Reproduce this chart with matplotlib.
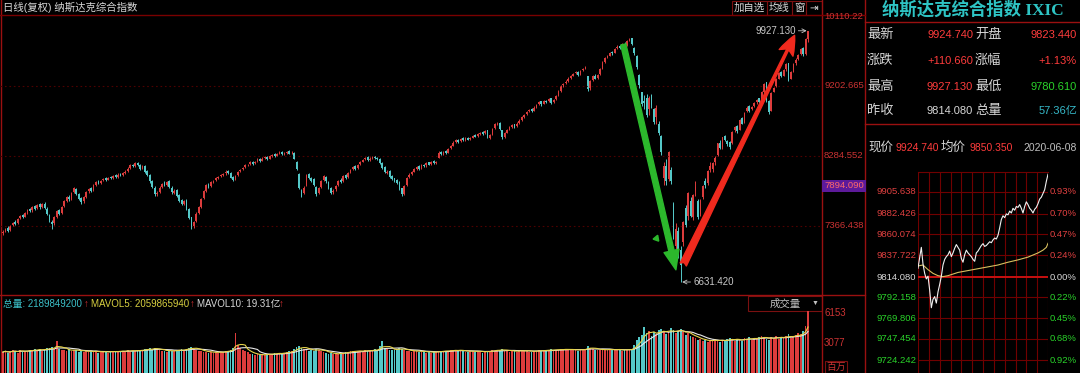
import numpy as np
import pandas as pd
import matplotlib
matplotlib.use("Agg")
import matplotlib.pyplot as plt
from matplotlib.patches import Rectangle, FancyArrowPatch
from matplotlib.transforms import blended_transform_factory as blend

plt.rcParams['font.family'] = ['Liberation Sans', 'Noto Sans CJK SC', 'DejaVu Sans']

# 日线 K线数据 (纳斯达克综合指数)
opens = [
    7270, 7300, 7345, 7320, 7385, 7420, 7410, 7470, 7510, 7490,
    7545, 7590, 7570, 7630, 7600, 7650, 7615, 7660, 7590, 7510,
    7420, 7400, 7490, 7575, 7540, 7630, 7700, 7750, 7720, 7810,
    7850, 7780, 7730, 7690, 7750, 7820, 7860, 7840, 7910, 7955,
    7935, 7965, 7995, 7975, 8010, 7995, 8030, 8010, 8050, 8035,
    8065, 8085, 8125, 8170, 8155, 8195, 8170, 8125, 8150, 8085,
    8030, 7960, 7870, 7780, 7810, 7880, 7930, 7905, 7950, 7870,
    7800, 7840, 7770, 7710, 7650, 7700, 7590, 7480, 7370, 7430,
    7540, 7620, 7730, 7830, 7910, 7890, 7950, 7975, 7995, 8020,
    8035, 8055, 8090, 8065, 8010, 7980, 8030, 8085, 8110, 8140,
    8165, 8180, 8210, 8190, 8215, 8250, 8225, 8255, 8275, 8250,
    8285, 8305, 8290, 8315, 8335, 8310, 8325, 8345, 8320, 8320,
    8200, 8050, 7830, 7800, 7900, 8050, 7990, 7980, 7880, 7800,
    7880, 7970, 8010, 7940, 7860, 7810, 7845, 7900, 7975, 7950,
    8030, 8010, 8070, 8110, 8150, 8130, 8180, 8210, 8240, 8270,
    8230, 8255, 8280, 8260, 8245, 8195, 8140, 8060, 8090, 8020,
    7990, 7970, 7940, 7860, 7790, 7900, 8010, 8050, 8080, 8115,
    8150, 8130, 8170, 8160, 8200, 8180, 8215, 8195, 8260, 8340,
    8315, 8350, 8330, 8390, 8420, 8465, 8495, 8480, 8515, 8495,
    8525, 8505, 8525, 8560, 8545, 8575, 8600, 8580, 8620, 8520,
    8570, 8650, 8705, 8720, 8620, 8540, 8590, 8630, 8665, 8700,
    8680, 8720, 8760, 8800, 8830, 8870, 8900, 8880, 8930, 8960,
    9000, 8970, 9010, 9000, 9040, 8990, 9030, 9080, 9140, 9210,
    9240, 9270, 9310, 9340, 9370, 9390, 9360, 9410, 9430, 9330,
    9180, 9280, 9340, 9310, 9360, 9430, 9520, 9580, 9600, 9650,
    9640, 9700, 9730, 9710, 9760, 9740, 9800, 9830, 9700, 9600,
    9350, 9120, 9000, 9050, 8900, 9080, 8900, 8800, 8700, 8550,
    8000, 8150, 7980, 8100, 7650, 7100, 7300, 7050, 7150, 7600,
    7500, 7700, 7480, 7820, 7700, 7530, 7750, 7950, 7930, 8100,
    8110, 8200, 8300, 8460, 8400, 8550, 8480, 8470, 8450, 8620,
    8680, 8630, 8780, 8730, 8870, 8940, 8900, 8940, 8990, 9040,
    9010, 9130, 9250, 9000, 8880, 9130, 9200, 9300, 9380, 9340,
    9420, 9500, 9300, 9390, 9500, 9560, 9620, 9700, 9620, 9823.44,
]
highs = [
    7310, 7345, 7360, 7385, 7425, 7440, 7475, 7515, 7525, 7555,
    7590, 7600, 7635, 7645, 7655, 7665, 7670, 7680, 7610, 7525,
    7440, 7495, 7575, 7590, 7635, 7705, 7760, 7770, 7815, 7880,
    7865, 7795, 7745, 7755, 7825, 7865, 7875, 7915, 7960, 7970,
    7975, 8000, 8010, 8015, 8025, 8035, 8045, 8055, 8065, 8075,
    8095, 8135, 8175, 8185, 8205, 8210, 8180, 8165, 8160, 8100,
    8045, 7975, 7885, 7830, 7885, 7935, 7950, 7960, 7965, 7885,
    7850, 7855, 7780, 7725, 7705, 7715, 7600, 7490, 7435, 7545,
    7625, 7735, 7835, 7915, 7925, 7955, 7975, 8005, 8025, 8045,
    8065, 8095, 8100, 8075, 8020, 8035, 8085, 8115, 8145, 8175,
    8185, 8215, 8220, 8225, 8255, 8260, 8265, 8285, 8290, 8295,
    8315, 8320, 8325, 8345, 8345, 8335, 8355, 8360, 8345, 8335,
    8215, 8065, 7845, 7885, 8045, 8065, 8010, 7995, 7890, 7875,
    7975, 8035, 8025, 7955, 7875, 7845, 7905, 7975, 7990, 8035,
    8045, 8075, 8115, 8155, 8160, 8185, 8215, 8245, 8275, 8285,
    8265, 8285, 8290, 8275, 8255, 8205, 8150, 8100, 8100, 8035,
    8000, 7985, 7950, 7870, 7900, 8015, 8055, 8085, 8125, 8155,
    8160, 8175, 8180, 8205, 8210, 8225, 8230, 8225, 8345, 8350,
    8355, 8360, 8395, 8425, 8475, 8505, 8510, 8525, 8530, 8535,
    8540, 8530, 8565, 8575, 8585, 8605, 8610, 8625, 8630, 8575,
    8655, 8715, 8730, 8735, 8630, 8595, 8635, 8675, 8705, 8710,
    8725, 8765, 8805, 8835, 8875, 8905, 8915, 8935, 8965, 9005,
    9010, 9015, 9025, 9045, 9050, 9035, 9085, 9145, 9215, 9245,
    9275, 9315, 9345, 9375, 9395, 9400, 9415, 9435, 9465, 9340,
    9285, 9345, 9360, 9365, 9435, 9525, 9585, 9605, 9655, 9665,
    9705, 9735, 9745, 9765, 9775, 9805, 9838, 9835, 9710, 9610,
    9360, 9130, 9080, 9100, 9070, 9100, 8910, 8950, 8740, 8560,
    8200, 8250, 8350, 8140, 7680, 7400, 7350, 7100, 7430, 7640,
    7810, 7740, 7790, 7950, 7720, 7720, 7900, 7990, 8100, 8200,
    8200, 8280, 8460, 8490, 8540, 8560, 8500, 8480, 8610, 8680,
    8690, 8770, 8790, 8860, 8935, 8950, 8945, 8995, 9035, 9050,
    9135, 9245, 9260, 9020, 9125, 9195, 9305, 9385, 9395, 9425,
    9505, 9510, 9400, 9505, 9565, 9620, 9695, 9710, 9830, 9927.13,
]
lows = [
    7245, 7285, 7290, 7300, 7370, 7380, 7395, 7455, 7465, 7480,
    7530, 7545, 7555, 7580, 7590, 7595, 7600, 7590, 7505, 7425,
    7330, 7380, 7475, 7515, 7525, 7615, 7685, 7700, 7705, 7795,
    7775, 7705, 7660, 7670, 7735, 7805, 7815, 7825, 7895, 7915,
    7920, 7955, 7960, 7965, 7980, 7985, 7995, 8000, 8020, 8025,
    8050, 8075, 8115, 8135, 8145, 8155, 8105, 8110, 8065, 8020,
    7935, 7860, 7760, 7765, 7795, 7865, 7885, 7890, 7865, 7790,
    7785, 7745, 7685, 7640, 7640, 7570, 7455, 7330, 7345, 7420,
    7530, 7605, 7715, 7815, 7865, 7875, 7935, 7955, 7985, 8005,
    8020, 8040, 8050, 7990, 7955, 7965, 8020, 8075, 8100, 8130,
    8150, 8170, 8170, 8180, 8205, 8210, 8215, 8245, 8235, 8240,
    8275, 8275, 8280, 8305, 8295, 8300, 8315, 8305, 8310, 8240,
    8095, 7850, 7740, 7780, 7890, 7985, 7945, 7890, 7765, 7790,
    7865, 7955, 7935, 7855, 7785, 7790, 7830, 7885, 7925, 7940,
    7985, 8000, 8060, 8100, 8105, 8120, 8170, 8200, 8230, 8220,
    8215, 8245, 8245, 8230, 8180, 8120, 8055, 8050, 7995, 7965,
    7945, 7915, 7835, 7760, 7775, 7885, 8000, 8040, 8070, 8105,
    8105, 8115, 8140, 8145, 8160, 8170, 8180, 8185, 8255, 8295,
    8300, 8310, 8320, 8380, 8410, 8455, 8460, 8470, 8480, 8485,
    8490, 8495, 8515, 8530, 8535, 8565, 8560, 8570, 8515, 8505,
    8560, 8635, 8690, 8630, 8505, 8525, 8580, 8620, 8655, 8655,
    8670, 8705, 8745, 8785, 8820, 8860, 8860, 8870, 8920, 8950,
    8945, 8960, 8980, 8990, 8970, 8975, 9020, 9070, 9130, 9195,
    9230, 9260, 9300, 9330, 9355, 9340, 9350, 9400, 9420, 9140,
    9150, 9265, 9290, 9290, 9350, 9420, 9510, 9565, 9590, 9615,
    9630, 9685, 9690, 9700, 9720, 9730, 9790, 9740, 9610, 9430,
    9180, 8940, 8900, 8800, 8820, 8920, 8700, 8700, 8560, 8300,
    7900, 7900, 7960, 7920, 7190, 6900, 6950, 6631.42, 7100, 7350,
    7450, 7480, 7440, 7760, 7460, 7500, 7720, 7870, 7900, 8080,
    8080, 8170, 8290, 8380, 8380, 8480, 8420, 8380, 8440, 8600,
    8590, 8620, 8700, 8720, 8860, 8860, 8890, 8930, 8970, 8975,
    8995, 9115, 8990, 8840, 8870, 9120, 9190, 9290, 9320, 9330,
    9400, 9270, 9290, 9380, 9480, 9540, 9610, 9600, 9610, 9780.61,
]
closes = [
    7290, 7330, 7305, 7370, 7410, 7395, 7460, 7500, 7480, 7540,
    7575, 7560, 7620, 7595, 7640, 7610, 7655, 7600, 7520, 7440,
    7390, 7480, 7560, 7530, 7620, 7690, 7740, 7715, 7800, 7860,
    7790, 7720, 7680, 7740, 7810, 7850, 7830, 7900, 7945, 7930,
    7960, 7985, 7970, 8000, 7990, 8020, 8005, 8040, 8030, 8060,
    8080, 8120, 8160, 8150, 8190, 8165, 8120, 8145, 8080, 8040,
    7950, 7880, 7790, 7800, 7870, 7920, 7900, 7945, 7880, 7810,
    7830, 7760, 7700, 7660, 7690, 7580, 7470, 7360, 7420, 7530,
    7610, 7720, 7820, 7900, 7880, 7940, 7960, 7990, 8010, 8030,
    8050, 8080, 8060, 8000, 7970, 8020, 8070, 8100, 8130, 8160,
    8170, 8200, 8180, 8210, 8240, 8220, 8250, 8270, 8245, 8280,
    8300, 8285, 8310, 8330, 8305, 8320, 8340, 8315, 8330, 8250,
    8110, 7860, 7760, 7870, 8030, 8000, 7960, 7900, 7780, 7860,
    7960, 8020, 7950, 7870, 7800, 7830, 7890, 7960, 7940, 8020,
    8000, 8060, 8100, 8140, 8120, 8170, 8200, 8230, 8260, 8235,
    8250, 8270, 8255, 8240, 8190, 8130, 8070, 8080, 8010, 7980,
    7960, 7930, 7850, 7780, 7890, 8000, 8040, 8070, 8110, 8140,
    8120, 8160, 8150, 8190, 8170, 8210, 8190, 8210, 8330, 8310,
    8340, 8320, 8380, 8410, 8460, 8490, 8470, 8510, 8490, 8520,
    8500, 8520, 8550, 8540, 8570, 8590, 8570, 8610, 8530, 8560,
    8640, 8700, 8710, 8640, 8530, 8580, 8620, 8660, 8690, 8670,
    8710, 8750, 8790, 8820, 8860, 8890, 8870, 8920, 8950, 8990,
    8960, 9000, 8990, 9030, 8980, 9020, 9070, 9130, 9200, 9230,
    9260, 9300, 9330, 9360, 9380, 9350, 9400, 9420, 9450, 9160,
    9270, 9330, 9300, 9350, 9420, 9510, 9570, 9590, 9640, 9630,
    9690, 9720, 9700, 9750, 9730, 9790, 9820, 9750, 9630, 9450,
    9220, 8960, 8980, 8820, 9050, 8950, 8730, 8920, 8580, 8340,
    8150, 7950, 8340, 7950, 7200, 7330, 6990, 6860, 7420, 7380,
    7800, 7500, 7770, 7880, 7490, 7700, 7890, 7910, 8090, 8150,
    8190, 8260, 8450, 8390, 8530, 8500, 8440, 8400, 8600, 8660,
    8610, 8760, 8710, 8850, 8920, 8880, 8930, 8980, 9020, 8990,
    9120, 9230, 9000, 8860, 9110, 9180, 9290, 9370, 9330, 9410,
    9490, 9280, 9380, 9490, 9550, 9608, 9683, 9616, 9814.08, 9924.74,
]
# 成交量 (百万)
volumes = [
    2150, 2300, 2050, 2200, 2400, 2250, 2100, 2350, 2200, 2300,
    2250, 2400, 2300, 2450, 2350, 2500, 2300, 2400, 2600, 2550,
    2700, 2500, 3300, 2450, 2400, 2350, 2300, 2450, 2250, 2350,
    2400, 2200, 2300, 2150, 2250, 2200, 2300, 2150, 2250, 2100,
    2200, 2150, 2250, 2100, 2200, 2300, 2150, 2250, 2200, 2300,
    2250, 2350, 2200, 2300, 2250, 2400, 2350, 2300, 2450, 2500,
    2550, 2400, 2600, 2450, 2350, 2300, 2250, 2200, 2350, 2300,
    2250, 2350, 2400, 2450, 2300, 2500, 2600, 2700, 2500, 2400,
    2300, 2250, 2200, 2150, 2100, 2200, 2050, 2150, 2100, 2200,
    2150, 2250, 2300, 2400, 2600, 4100, 2900, 2600, 2400, 2300,
    2150, 2000, 1900, 1850, 1950, 1800, 1900, 1850, 1950, 2000,
    1900, 2050, 2000, 2100, 1950, 2050, 2150, 2250, 2300, 2450,
    2700, 2800, 2600, 2500, 2400, 2300, 2350, 2250, 2500, 2400,
    2300, 2200, 2100, 1950, 2050, 1900, 2000, 1950, 2100, 2050,
    2150, 2200, 2250, 2300, 2200, 2250, 2300, 2200, 2350, 2250,
    2300, 2400, 2450, 2350, 2800, 3300, 2600, 2450, 2400, 2350,
    2400, 2500, 2550, 2450, 2350, 2300, 2250, 2200, 2300, 2250,
    2200, 2150, 2250, 2100, 2200, 2050, 2150, 2200, 2300, 2250,
    2200, 2300, 2250, 2350, 2400, 2300, 2250, 2350, 2300, 2200,
    2150, 2250, 2300, 2200, 2250, 2150, 2100, 2200, 2300, 2250,
    2350, 2300, 2400, 2350, 2450, 2300, 2250, 2200, 2300, 2250,
    2200, 2300, 2350, 2250, 2300, 2200, 2150, 2250, 2300, 2350,
    2300, 2250, 2350, 2400, 2450, 2300, 2350, 2400, 2500, 2450,
    2400, 2350, 2450, 2400, 2350, 2300, 2400, 2450, 2500, 2750,
    2600, 2450, 2400, 2350, 2400, 2450, 2400, 2350, 2450, 2400,
    2350, 2450, 2400, 2300, 2350, 2400, 2450, 2500, 2900, 3400,
    3700, 3900, 4700, 4100, 4300, 3800, 4200, 4000, 4400, 4500,
    4300, 4000, 4200, 4600, 4400, 4100, 4300, 4500, 4200, 3900,
    4100, 3800, 3700, 3600, 3400, 3500, 3300, 3400, 3200, 3300,
    3400, 3500, 3300, 3200, 3400, 3300, 3500, 3600, 3400, 3300,
    3500, 3400, 3300, 3600, 3500, 3700, 3400, 3500, 3600, 3700,
    3800, 3600, 3500, 3400, 3700, 3600, 3800, 3500, 3700, 3600,
    3800, 4000, 3600, 3700, 3900, 4100, 4000, 4300, 4800, 6400,
]
price_ticks = [10110.22, 9202.665, 8284.552, 7366.438]
cursor_price = 7894.09
vol_ticks = [6153, 3077]
vol_header = [(3, '总量: 2189849200', '#3cc0c8'), (84, '↑', '#d03030'),
              (91, 'MAVOL5: 2059865940', '#d8d040'), (190, '↑', '#d03030'),
              (197, 'MAVOL10: 19.31亿', '#d8d8d8'), (279, '↑', '#d03030')]

# 分时数据 (每5分钟)
intraday_price = [
    9823.44, 9835, 9846, 9828, 9818, 9812, 9815, 9800, 9781, 9790,
    9793, 9786, 9798, 9806, 9815, 9827, 9833, 9836, 9838, 9842,
    9836, 9840, 9845, 9849, 9846, 9843, 9834, 9830, 9838, 9843,
    9840, 9838, 9836, 9833, 9831, 9840, 9842, 9845, 9848, 9850,
    9847, 9848, 9850, 9852, 9851, 9854, 9856, 9855, 9859, 9867,
    9876, 9880, 9878, 9882, 9881, 9885, 9883, 9888, 9886, 9890,
    9889, 9892, 9888, 9883, 9890, 9895, 9892, 9888, 9886, 9883,
    9887, 9889, 9893, 9898, 9900, 9904, 9908, 9917, 9924.74,
]
avg_minutes = [0, 15, 30, 45, 60, 75, 90, 120, 150, 180, 210, 240, 270, 300, 330, 360, 375, 385, 390]
avg_price = [9826, 9827, 9822, 9818, 9815.5, 9814.5, 9815.5, 9819, 9821, 9823,
             9825, 9827, 9830, 9832.5, 9835.5, 9840, 9843, 9846, 9850.35]
intraday_levels = [9905.638, 9882.426, 9860.074, 9837.722, 9814.080,
                   9792.158, 9769.806, 9747.454, 9724.242]
total_amount = '57.36亿'
date_text = '2020-06-08'

UP = '#dc3c3c'
DOWN = '#54c8c8'
GRID = '#4e0000'
BORDER = '#9a1010'
AXRED = '#cc3333'
QRED = '#ff3c3c'
QGREEN = '#2ad22a'
WHITE = '#d8d8d8'
CYAN = '#36b8c8'

W, H = 1080, 373
fig = plt.figure(figsize=(W / 100, H / 100), dpi=100, facecolor='black')


def px_axes(x0, y0, x1, y1, z=1):
    a = fig.add_axes([x0 / W, 1 - y1 / H, (x1 - x0) / W, (y1 - y0) / H], zorder=z)
    a.set_axis_off()
    return a


bg = px_axes(0, 0, W, H, z=0)
bg.set_xlim(0, W)
bg.set_ylim(H, 0)

# frame lines
for x in (1, 822, 865):
    bg.plot([x, x], [0, H], color=BORDER, lw=1)
bg.plot([0, 865], [15, 15], color='#7a0000', lw=1)
bg.plot([0, 865], [295, 295], color=BORDER, lw=1)
bg.plot([865, W], [22, 22], color=BORDER, lw=1)
bg.plot([865, W], [124, 124], color=BORDER, lw=1)

# top-left title and buttons
bg.text(3, 7.5, '日线(复权) 纳斯达克综合指数', color=WHITE, fontsize=7.5, va='center')
for (x0, x1), lab in zip([(732, 767), (767, 792), (792, 806), (806, 822)], ['加自选', '均线', '窗', '⇥']):
    bg.add_patch(Rectangle((x0, 1), x1 - x0, 14, fill=False, edgecolor='#7a1010', lw=0.8))
    bg.text((x0 + x1) / 2, 8, lab, color=WHITE, fontsize=7.5, ha='center', va='center')

# ---- price panel ----
ax = px_axes(0, 15, 822, 295)
ax.set_xlim(-1.2, 334.7)
ax.set_ylim(6461, 10134)
idx = np.arange(len(closes))
o = np.array(opens, float)
h = np.array(highs, float)
l = np.array(lows, float)
c = np.array(closes, float)
cols = np.where(c >= o, UP, DOWN)

for p in price_ticks[1:]:
    ax.axhline(p, color=GRID, lw=0.8, ls=(0, (1.5, 2.5)))
ax.vlines(idx, l, h, colors=cols, lw=0.7)
ax.bar(idx, np.abs(c - o), bottom=np.minimum(o, c), width=0.7, color=cols, linewidth=0)

tr = blend(ax.transAxes, ax.transData)
for p in price_ticks:
    ax.text(1.0025, p, f'{p}', transform=tr, color=AXRED, fontsize=6.8, va='center', ha='left', clip_on=False)
ax.text(1.0025, cursor_price, f'{cursor_price:.3f}', transform=tr, color='#ff6a6a', fontsize=6.8,
        va='center', ha='left', clip_on=False,
        bbox=dict(facecolor='#5d1a9a', edgecolor='none', pad=1.2))

i_lo = int(np.argmin(l))
i_top = int(np.argmax(h))
i_peak = int(np.argmax(h[:i_lo]))

ax.annotate(f'{h[i_top]:.3f}', xy=(i_top, h[i_top]), xytext=(-9, 0), textcoords='offset points',
            ha='right', va='center', fontsize=7, color='#c8c8c8',
            arrowprops=dict(arrowstyle='->', color='#c8c8c8', lw=0.6, shrinkA=0, shrinkB=1))
ax.annotate(f'{l[i_lo]:.3f}', xy=(i_lo, l[i_lo]), xytext=(9, 0), textcoords='offset points',
            ha='left', va='center', fontsize=7, color='#c8c8c8',
            arrowprops=dict(arrowstyle='->', color='#c8c8c8', lw=0.6, shrinkA=0, shrinkB=1))

green = FancyArrowPatch((i_peak - 2.5, h[i_peak] - 90), (i_lo - 2, l[i_lo] + 160),
                        arrowstyle='simple,head_length=1.4,head_width=1.1,tail_width=0.38',
                        mutation_scale=10, color='#2cb82c', shrinkA=0, shrinkB=0, zorder=5)
ax.add_patch(green)
red = FancyArrowPatch((i_lo + 1, l[i_lo] + 230), (i_top - 5.5, h[i_top] - 60),
                      arrowstyle='fancy,head_length=1.4,head_width=1.1,tail_width=0.5',
                      mutation_scale=10, color='#f02a1e', shrinkA=0, shrinkB=0, zorder=5)
ax.add_patch(red)
ax.plot(i_lo - 10, l[i_lo] + 580, marker=(3, 0, 100), ms=5, color='#2cb82c')

# ---- volume panel ----
axv = px_axes(0, 295, 822, 373)
axv.set_xlim(-1.2, 334.7)
axv.set_ylim(0, 8000)
axv.bar(idx, volumes, width=0.72, color=cols, linewidth=0)
vs = pd.Series(volumes, dtype=float)
axv.plot(idx, vs.rolling(10, min_periods=1).mean(), color='#e8e8e8', lw=0.8)
axv.plot(idx, vs.rolling(5, min_periods=1).mean(), color='#e6d44a', lw=0.8)
trv = blend(axv.transAxes, axv.transData)
for v in vol_ticks:
    axv.text(1.0025, v, f'{v}', transform=trv, color=AXRED, fontsize=7, va='center', ha='left', clip_on=False)
bg.text(826, 367, '百万', color=AXRED, fontsize=7, va='center', ha='left',
        bbox=dict(facecolor='none', edgecolor='#7a1010', pad=0.8, lw=0.8))
for x, s, col in vol_header:
    bg.text(x, 304, s, color=col, fontsize=7, va='center', ha='left')
bg.add_patch(Rectangle((748, 296), 74, 15, fill=False, edgecolor='#7a1010', lw=0.8))
bg.text(785, 303.5, '成交量', color='#c0c0c0', fontsize=7.5, ha='center', va='center')
bg.text(815, 303, '▼', color='#c0c0c0', fontsize=5, ha='center', va='center')

# ---- right quote panel ----
bg.text(973, 10, '纳斯达克综合指数 IXIC', color='#2ec4c4', fontsize=12.5, fontweight='bold',
        ha='center', va='center', family=['Liberation Serif', 'Noto Sans CJK SC'])
last, prev = c[-1], c[-2]
chg = last - prev
rows = [
    ('最新', f'{last:.3f}', QRED, '开盘', f'{o[-1]:.3f}', QRED),
    ('涨跌', f'+{chg:.3f}', QRED, '涨幅', f'+{chg / prev * 100:.2f}%', QRED),
    ('最高', f'{h[-1]:.3f}', QRED, '最低', f'{l[-1]:.3f}', QGREEN),
    ('昨收', f'{prev:.3f}', WHITE, '总量', total_amount, CYAN),
]
for y, (a1, v1, c1, a2, v2, c2) in zip([35, 61, 87, 111], rows):
    bg.text(867, y, a1, color=WHITE, fontsize=9.5, va='center', ha='left')
    bg.text(973, y, v1, color=c1, fontsize=8, va='center', ha='right')
    bg.text(975, y, a2, color=WHITE, fontsize=9.5, va='center', ha='left')
    bg.text(1077, y, v2, color=c2, fontsize=8, va='center', ha='right')

bg.text(868, 148, '现价', color=WHITE, fontsize=9, va='center', ha='left')
bg.text(896, 148, f'{intraday_price[-1]:.3f}', color=QRED, fontsize=7.5, va='center', ha='left')
bg.text(941, 148, '均价', color=WHITE, fontsize=9, va='center', ha='left')
bg.text(970, 148, f'{avg_price[-1]:.3f}', color=QRED, fontsize=7.5, va='center', ha='left')
bg.text(1077, 148, date_text, color='#c0c0c0', fontsize=7.5, va='center', ha='right')

# ---- intraday panel ----
ai = px_axes(918, 172, 1048, 382)
amp = h[-1] - prev
ai.set_xlim(0, 390)
ai.set_ylim(prev - amp, prev + amp)
for t in np.linspace(0, 390, 13):
    ai.axvline(t, color='#700000', lw=0.8)
bg.plot([918, 1048], [172, 172], color='#700000', lw=0.8)
tri = blend(ai.transAxes, ai.transData)
for lv in intraday_levels:
    if abs(lv - prev) < 1e-6:
        ai.axhline(lv, color='#c81010', lw=1.4)
        col = WHITE
    else:
        ai.axhline(lv, color='#700000', lw=0.8)
        col = '#e04040' if lv > prev else QGREEN
    ai.text(-0.012, lv, f'{lv:.3f}', transform=tri, color=col, fontsize=6.8, ha='right', va='center', clip_on=False)
    ai.text(1.012, lv, f'{abs(lv - prev) / prev * 100:.2f}%', transform=tri, color=col, fontsize=6.8,
            ha='left', va='center', clip_on=False)
minutes = np.arange(0, 391, 5)
ai.plot(avg_minutes, avg_price, color='#d8c060', lw=0.8)
ai.plot(minutes, intraday_price, color='#f0f0f0', lw=0.8)

fig.savefig('out.png', dpi=100, facecolor='black')
